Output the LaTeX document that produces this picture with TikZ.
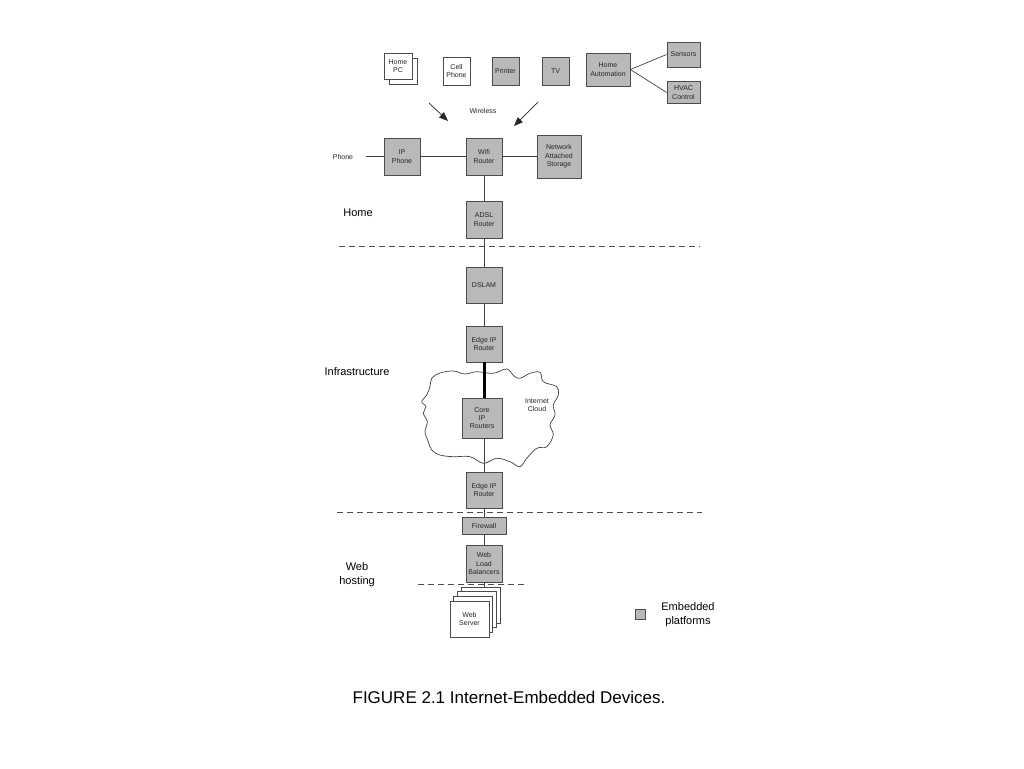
\documentclass[tikz,border=0pt]{standalone}
\usepackage{fontspec}
\setmainfont{Liberation Sans}
\usetikzlibrary{arrows.meta}
\begin{document}
\begin{tikzpicture}[x=1pt,y=-1pt,
  box/.style={draw=black!70, line width=0.8pt, fill=gray!55, inner sep=0pt, align=center,
              font=\fontsize{7}{8.4}\selectfont, text=black!85},
  wbox/.style={box, fill=white},
  conn/.style={draw=black!75, line width=0.7pt},
  thickconn/.style={draw=black, line width=3pt},
  sepline/.style={draw=black!70, line width=0.7pt, dash pattern=on 6pt off 4pt},
  small/.style={font=\fontsize{7}{8.4}\selectfont, text=black!85, align=center, inner sep=0pt},
  big/.style={font=\fontsize{11}{14}\selectfont, align=center, inner sep=0pt},
  wl/.style={draw=black!85, line width=0.7pt, -{Triangle[length=9pt,width=7pt]}}]
\useasboundingbox (0,0) rectangle (1024,768);

% cloud
\draw[conn] plot[smooth cycle, tension=0.6] coordinates {
 (431.7,378.3) (440,373) (453.3,371) (465,374) (476.7,371.7) (493.3,373.3) (506.7,369) (514,376) (520,378.3)
 (530,373.3) (540,372.3) (543.3,381.7) (556.7,386.7) (558.3,395) (553.3,405)
 (555,415) (550,425) (553.3,435) (546.7,446.7) (536.7,448.3) (526.7,458.3)
 (520,466.7) (510,461.7) (496.7,458.3) (483.3,463.3) (470,456.7) (453.3,456.7)
 (440,455) (431.7,450) (428.3,441.7) (425,431.7) (427.3,421.7) (423.3,413.3)
 (426,406.7) (421.7,401.7) (426.7,395) (430,386.7)};

% top row devices
\node[wbox, minimum width=28, minimum height=26] (pcback) at (403,71) {};
\node[wbox, minimum width=28, minimum height=26] (pc) at (398,66) {Home\\PC};
\node[wbox, minimum width=27, minimum height=28] (cell) at (456.5,71) {Cell\\Phone};
\node[box, minimum width=27, minimum height=28] (printer) at (505.5,71) {Printer};
\node[box, minimum width=27, minimum height=28] (tv) at (555.5,71) {TV};
\node[box, minimum width=44, minimum height=33] (ha) at (608,69.5) {Home\\Automation};
\node[box, minimum width=33, minimum height=25] (sens) at (683.5,54.5) {Sensors};
\node[box, minimum width=33, minimum height=22] (hvac) at (683.5,92.5) {HVAC\\Control};
\draw[conn] (ha.east) -- (sens.west);
\draw[conn] (ha.east) -- (hvac.west);

% wireless arrows
\coordinate (a1s) at (429,103);
\coordinate (a1e) at (448,121);
\coordinate (a2s) at (538,102);
\coordinate (a2e) at (514,126);
\draw[wl] (a1s) -- (a1e);
\draw[wl] (a2s) -- (a2e);
\node[small] (wireless) at (483,111) {Wireless};

% home network
\node[small] (phone) at (343,157) {Phone};
\coordinate (phoneend) at (366,156.5);
\node[box, minimum width=36, minimum height=37] (ipp) at (402,156.5) {IP\\Phone};
\node[box, minimum width=36, minimum height=37] (wifi) at (484,156.5) {Wifi\\Router};
\node[box, minimum width=44, minimum height=43] (nas) at (559,156.5) {Network\\Attached\\Storage};
\node[box, minimum width=36, minimum height=37] (adsl) at (484,219.5) {ADSL\\Router};
\draw[conn] (phoneend) -- (ipp.west);
\draw[conn] (ipp.east) -- (wifi.west);
\draw[conn] (wifi.east) -- (nas.west);
\draw[conn] (wifi.south) -- (adsl.north);

\node[big] (homelbl) at (358,213) {Home};
\coordinate (d1l) at (339,246);
\coordinate (d1r) at (700,246);
\draw[sepline] (d1l) -- (d1r);

% infrastructure
\node[box, minimum width=36, minimum height=36] (dslam) at (484,285) {DSLAM};
\node[box, minimum width=36, minimum height=36] (edge1) at (484,344) {Edge IP\\Router};
\node[box, minimum width=40, minimum height=40] (core) at (482,418) {Core\\IP\\Routers};
\node[box, minimum width=36, minimum height=36] (edge2) at (484,490) {Edge IP\\Router};
\draw[conn] (adsl.south) -- (dslam.north);
\draw[conn] (dslam.south) -- (edge1.north);
\draw[thickconn] (edge1.south) -- (edge1.south |- core.north);
\draw[conn] (edge2.north |- core.south) -- (edge2.north);
\node[big] (infralbl) at (357,372) {Infrastructure};
\node[small] (cloudlbl) at (537,405) {Internet\\Cloud};

\coordinate (d2l) at (337,512);
\coordinate (d2r) at (702,512);
\draw[sepline] (d2l) -- (d2r);

% web hosting
\node[box, minimum width=44, minimum height=17] (fw) at (484,525.5) {Firewall};
\node[box, minimum width=36, minimum height=37] (lb) at (484,563.5) {Web\\Load\\Balancers};
\draw[conn] (edge2.south) -- (fw.north);
\draw[conn] (fw.south) -- (lb.north);

\node[wbox, minimum width=39, minimum height=36] (ws3) at (480.6,604.9) {};
\node[wbox, minimum width=39, minimum height=36] (ws2) at (476.9,609.6) {};
\node[wbox, minimum width=39, minimum height=36] (ws1) at (473.2,614.3) {};
\node[wbox, minimum width=39, minimum height=36] (ws) at (469.5,619) {Web\\Server};
\draw[conn] (lb.south) -- (lb.south |- ws3.north);

\coordinate (d3l) at (418,584);
\coordinate (d3r) at (527,584);
\draw[sepline] (d3l) -- (d3r);
\node[big] (weblbl) at (357,575) {Web\\hosting};

% legend
\node[box, minimum width=10, minimum height=10] (leg) at (640,614.5) {};
\node[big] (leglbl) at (688,615) {Embedded\\platforms};

% caption
\node[font=\fontsize{17}{20}\selectfont, inner sep=0pt] (caption) at (509,697) {FIGURE 2.1 Internet-Embedded Devices.};
\end{tikzpicture}
\end{document}
